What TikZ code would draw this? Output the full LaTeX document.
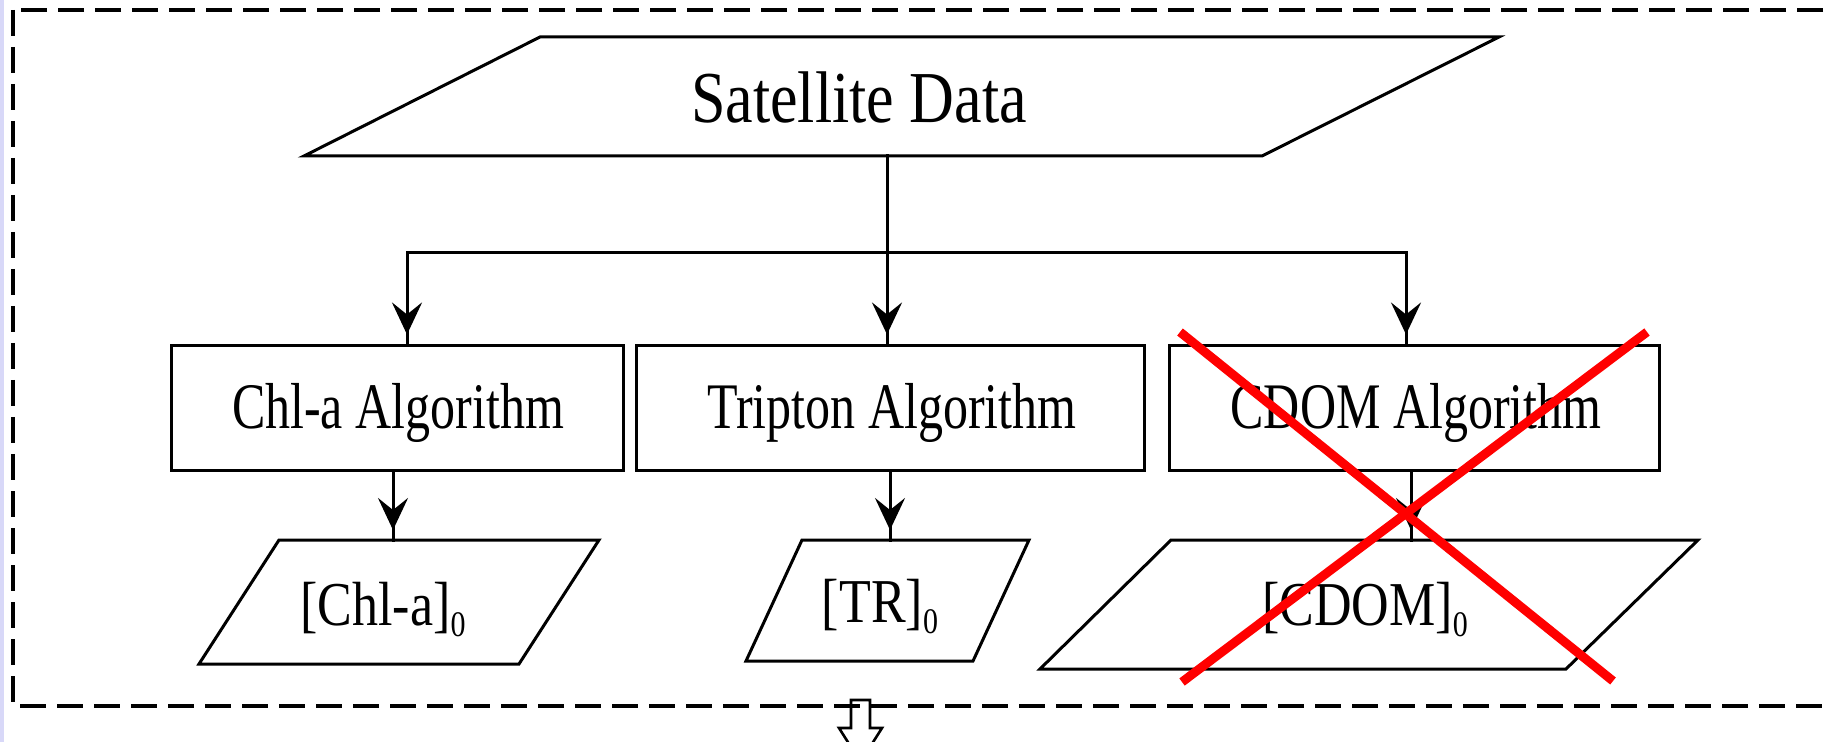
\documentclass[tikz,border=0pt]{standalone}
\usepackage{fontspec}
\setmainfont{Liberation Serif}
\usepackage{graphicx}
\usetikzlibrary{arrows.meta,decorations.markings}
\definecolor{lav}{RGB}{216,216,248}
\definecolor{xred}{RGB}{255,0,0}
\tikzset{
  mytip/.tip={Stealth[length=16pt,width=15pt,inset=6pt]},
  ln/.style={line width=1.5pt, black, line cap=rect},
  arr/.style={ln, postaction={decorate},
    decoration={markings, mark=at position -5pt with {\arrow{mytip}}}},
  boxst/.style={draw, line width=1.5pt, inner sep=0pt},
  para/.style={line width=1.5pt, line join=miter},
  frame/.style={line width=2pt, dash pattern=on 13pt off 5.5pt},
  cross/.style={xred, line width=4.5pt},
  sattxt/.style={anchor=base, inner sep=0pt, font=\fontsize{31}{31}\selectfont},
  boxtxt/.style={anchor=base, inner sep=0pt, font=\fontsize{25}{25}\selectfont},
  lbltxt/.style={anchor=base, inner sep=0pt, font=\fontsize{26}{26}\selectfont},
}
\newcommand{\subz}{\raisebox{-4.8pt}{\fontsize{15}{15}\selectfont 0}}
\begin{document}
\begin{tikzpicture}[x=0.5pt,y=-0.5pt]
\useasboundingbox (0,0) rectangle (1829,742);
\clip (0,0) rectangle (1829,742);
\fill[white] (0,0) rectangle (1829,742);
\fill[lav] (0,0) rectangle (4,742);
% dashed frame
\draw[frame] (13,10) rectangle (1850,706);

% Satellite data parallelogram
\draw[para] (540,37) -- (1499,37) -- (1262,156) -- (304,156) -- cycle;
\node[sattxt] (sat) at (859,123) {\scalebox{1}[1.18]{Satellite Data}};
\coordinate (satb) at (887,156);

% algorithm boxes
\node[boxst, minimum width=226pt, minimum height=62.5pt] (b1) at (397,408.5) {};
\node[boxst, minimum width=254pt, minimum height=62.5pt] (b2) at (890,408.5) {};
\node[boxst, minimum width=245pt, minimum height=62.5pt] (b3) at (1414,408.5) {};
\node[boxtxt] (t1) at (398,429) {\scalebox{1}[1.3]{Chl-a Algorithm}};
\node[boxtxt] (t2) at (892,429) {\scalebox{1}[1.3]{Tripton Algorithm}};
\node[boxtxt] (t3) at (1416,428.5) {\scalebox{1}[1.3]{CDOM Algorithm}};

% output parallelograms
\draw[para] (279,540) -- (599,540) -- (519,664) -- (199,664) -- cycle;
\draw[para] (802,540) -- (1029,540) -- (973,661) -- (746,661) -- cycle;
\draw[para] (1171,540) -- (1698,540) -- (1566,669) -- (1040,669) -- cycle;
\coordinate (p1) at (393,540);
\coordinate (p2) at (890,540);
\coordinate (p3) at (1411,540);
\node[lbltxt] (l1) at (383,625) {\scalebox{1}[1.2]{[Chl-a]\subz}};
\node[lbltxt] (l2) at (880,622) {\scalebox{1}[1.2]{[TR]\subz}};
\node[lbltxt] (l3) at (1365,625) {\scalebox{1}[1.2]{[CDOM]\subz}};

% connectors
\coordinate (j1) at (407,253);
\coordinate (j3) at (1406,253);
\draw[ln] (j1) -- (j3);
\draw[arr] (satb) -- (satb |- b2.north);
\draw[arr] (j1) -- (j1 |- b1.north);
\draw[arr] (j3) -- (j3 |- b3.north);
\draw[arr] (p1 |- b1.south) -- (p1);
\draw[arr] (p2 |- b2.south) -- (p2);
\draw[arr] (p3 |- b3.south) -- (p3);

% hollow arrow below frame
\draw[line width=1.3pt] (851,700) -- (870,700) -- (870,728) -- (882,728)
  -- (860.5,762) -- (839,728) -- (851,728) -- cycle;

% red cross
\draw[cross] (1180,332) -- (1613,681);
\draw[cross] (1647,332) -- (1182,682);
\end{tikzpicture}
\end{document}
